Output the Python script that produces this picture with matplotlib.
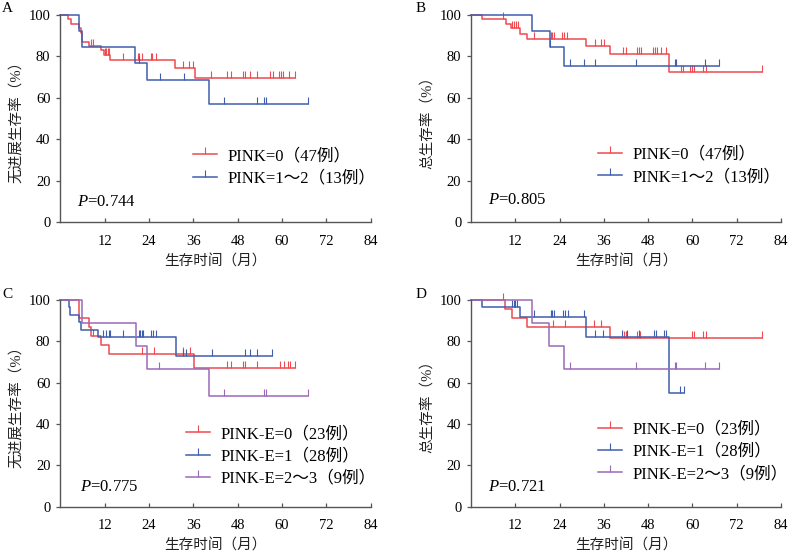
import numpy as np
import matplotlib
matplotlib.use('Agg')
import matplotlib.pyplot as plt
from matplotlib.lines import Line2D

plt.rcParams['font.family'] = ['Liberation Serif', 'Noto Sans CJK SC']
plt.rcParams['mathtext.fontset'] = 'custom'
plt.rcParams['mathtext.it'] = 'Liberation Serif:italic'
plt.rcParams['mathtext.rm'] = 'Liberation Serif'

##### data #####
# each group: step times, survival (%) after each step, last follow-up, censored times

# A: PFS by PINK
a0_t = [0, 2.2, 2.8, 5.0, 5.5, 6.0, 7.7, 11.0, 11.8, 13.5, 31.0, 36.5]
a0_s = [100, 97.9, 95.7, 93.6, 91.5, 87.2, 85.1, 83.0, 80.8, 78.4, 74.3, 69.8]
a0_end = 63.6
a0_c = [8.2, 8.8, 12.0, 12.4, 12.8, 13.3, 16.9, 21.0, 21.4, 22.1, 24.5, 24.9, 25.8,
        33.3, 34.8, 35.8, 40.9, 45.0, 46.2, 49.5, 50.0, 51.2, 53.2, 56.7, 57.5,
        59.1, 59.6, 60.3, 61.8, 63.6]
a1_t = [0, 5.1, 5.8, 20.2, 23.4, 40.2]
a1_s = [100, 92.3, 84.6, 76.9, 68.4, 57.0]
a1_end = 67.0
a1_c = [21.4, 26.9, 33.4, 44.4, 53.2, 55.2, 55.6, 67.0]

# B: OS by PINK
b0_t = [0, 3.0, 9.6, 10.9, 13.4, 15.1, 31.2, 37.8, 53.6]
b0_s = [100, 97.9, 95.7, 93.6, 90.9, 88.4, 85.1, 81.4, 72.3]
b0_end = 78.9
b0_c = [8.8, 11.1, 11.7, 12.3, 12.7, 17.0, 21.7, 22.0, 22.4, 24.6, 25.3, 26.0,
        33.6, 35.2, 36.0, 41.2, 42.1, 44.9, 45.4, 46.0, 49.3, 49.8, 50.4, 51.4,
        52.9, 56.9, 57.4, 59.3, 59.9, 60.3, 63.0, 63.7, 78.9]
b1_t = [0, 16.5, 21.3, 25.3]
b1_s = [100, 92.3, 84.6, 75.5]
b1_end = 67.1
b1_c = [21.3, 26.9, 30.5, 33.5, 44.6, 55.3, 55.5, 63.3, 67.1]

# C: PFS by PINK-E
c0_t = [0, 5.1, 7.8, 8.3, 11.0, 13.2, 36.2]
c0_s = [100, 91.3, 87.0, 82.6, 78.3, 73.9, 67.3]
c0_end = 63.6
c0_c = [8.8, 22.2, 25.4, 33.2, 35.1, 45.0, 46.1, 49.4, 50.1, 53.2, 59.5, 60.4,
        61.5, 62.2, 63.6]
c1_t = [0, 2.4, 2.7, 5.1, 5.7, 10.1, 31.2]
c1_s = [100, 96.4, 92.9, 89.3, 85.7, 82.1, 72.9]
c1_end = 57.2
c1_c = [11.7, 12.4, 13.1, 13.5, 16.9, 21.3, 21.6, 22.2, 22.3, 24.6, 25.2, 25.9,
        33.3, 34.1, 41.1, 50.0, 51.2, 53.2, 57.2]
c2_t = [0, 6.0, 20.4, 23.5, 40.3]
c2_s = [100, 88.9, 77.8, 66.7, 53.4]
c2_end = 67.1
c2_c = [26.8, 44.4, 55.2, 55.6, 67.1]

# D: OS by PINK-E
d0_t = [0, 9.2, 11.0, 15.1, 37.8]
d0_s = [100, 95.7, 91.3, 87.0, 81.8]
d0_end = 78.9
d0_c = [8.8, 22.2, 25.4, 33.2, 35.3, 41.5, 42.1, 45.1, 45.7, 59.8, 60.3, 63.0,
        63.7, 78.9]
d1_t = [0, 2.9, 13.3, 31.2, 53.6]
d1_s = [100, 96.4, 92.0, 82.3, 55.0]
d1_end = 57.6
d1_c = [11.1, 11.6, 12.0, 12.6, 17.0, 21.7, 22.0, 22.4, 24.8, 25.5, 26.2, 30.5,
        33.7, 35.9, 40.9, 42.2, 45.4, 49.5, 50.2, 52.2, 52.9, 56.7, 57.6]
d2_t = [0, 16.4, 21.2, 25.3]
d2_s = [100, 88.9, 77.8, 66.7]
d2_end = 67.1
d2_c = [26.9, 44.6, 55.3, 55.5, 63.3, 67.1]

pink_labels = ['PINK=0（47例）', 'PINK=1～2（13例）']
pinke_labels = ['PINK-E=0（23例）', 'PINK-E=1（28例）', 'PINK-E=2～3（9例）']
p_values = ['0.744', '0.805', '0.775', '0.721']
x_ticks = [12, 24, 36, 48, 60, 72, 84]
y_ticks = [0, 20, 40, 60, 80, 100]

RED = '#ee4a4f'
BLUE = '#3f5fae'
PURPLE = '#9a6ab8'


def draw_curve(ax, t, s, end, cens, color):
    tt = list(t) + [end]
    ss = list(s) + [s[-1]]
    ax.step(tt, ss, where='post', color=color, lw=1.1, clip_on=False)
    idx = np.searchsorted(t, cens, side='right') - 1
    ax.plot(cens, np.array(s)[idx], ls='none', marker=2, ms=5, mew=0.8,
            color=color, clip_on=False)


fig = plt.figure(figsize=(7.9, 5.6), dpi=100)
axA = fig.add_axes([0.0762, 0.6032, 0.3932, 0.3700])
axB = fig.add_axes([0.5962, 0.6032, 0.3924, 0.3700])
axC = fig.add_axes([0.0762, 0.0952, 0.3932, 0.3690])
axD = fig.add_axes([0.5962, 0.0952, 0.3924, 0.3690])

draw_curve(axA, a0_t, a0_s, a0_end, a0_c, RED)
draw_curve(axA, a1_t, a1_s, a1_end, a1_c, BLUE)
draw_curve(axB, b0_t, b0_s, b0_end, b0_c, RED)
draw_curve(axB, b1_t, b1_s, b1_end, b1_c, BLUE)
draw_curve(axC, c0_t, c0_s, c0_end, c0_c, RED)
draw_curve(axC, c1_t, c1_s, c1_end, c1_c, BLUE)
draw_curve(axC, c2_t, c2_s, c2_end, c2_c, PURPLE)
draw_curve(axD, d0_t, d0_s, d0_end, d0_c, RED)
draw_curve(axD, d1_t, d1_s, d1_end, d1_c, BLUE)
draw_curve(axD, d2_t, d2_s, d2_end, d2_c, PURPLE)

##### axes styling #####
ylabels = ['无进展生存率（%）', '总生存率（%）', '无进展生存率（%）', '总生存率（%）']
for ax, yl in zip([axA, axB, axC, axD], ylabels):
    ax.set_xlim(0, 84)
    ax.set_ylim(0, 100)
    ax.set_xticks(x_ticks)
    ax.set_yticks(y_ticks)
    for side in ['top', 'right']:
        ax.spines[side].set_visible(False)
    for side in ['left', 'bottom']:
        ax.spines[side].set_color('#555555')
        ax.spines[side].set_linewidth(1.0)
    ax.tick_params(axis='x', direction='in', length=3, width=0.9, color='#555555',
                   pad=9, labelsize=10.5)
    ax.tick_params(axis='y', direction='out', length=3, width=0.9, color='#555555',
                   pad=4, labelsize=10.5)
    ax.set_ylabel(yl, fontsize=10.5, color='#222222')
    ax.yaxis.set_label_coords(-0.12, 0.5)
    ax.set_xlabel('生存时间（月）', fontsize=10.5, color='#222222')
    ax.xaxis.set_label_coords(0.5, -0.155)

##### legends and P values #####
def add_legend(ax, colors, labels, x, y):
    handles = [Line2D([], [], color=c, lw=1.1, marker=2, ms=5, mew=0.8) for c in colors]
    ax.legend(handles, labels, loc='upper left', bbox_to_anchor=(x, y), frameon=False,
              fontsize=12, handlelength=1.45, handletextpad=0.6, labelspacing=0.38,
              borderpad=0, borderaxespad=0, numpoints=1)


add_legend(axA, [RED, BLUE], pink_labels, 0.428, 0.357)
add_legend(axB, [RED, BLUE], pink_labels, 0.41, 0.364)
add_legend(axC, [RED, BLUE, PURPLE], pinke_labels, 0.405, 0.39)
add_legend(axD, [RED, BLUE, PURPLE], pinke_labels, 0.41, 0.412)

p_pos = [(0.055, 0.098), (0.055, 0.107), (0.064, 0.095), (0.055, 0.095)]
for ax, p, (px, py) in zip([axA, axB, axC, axD], p_values, p_pos):
    ax.text(px, py, '$P$=' + p, transform=ax.transAxes, fontsize=12,
            va='center', ha='left')

# panel letters
for letter, (lx, ly) in zip('ABCD', [(2, 8), (416, 8), (2, 294), (416, 294)]):
    fig.text(lx / 790, 1 - ly / 560, letter, fontsize=11, va='center', ha='left')

plt.savefig('out.png', dpi=100)
